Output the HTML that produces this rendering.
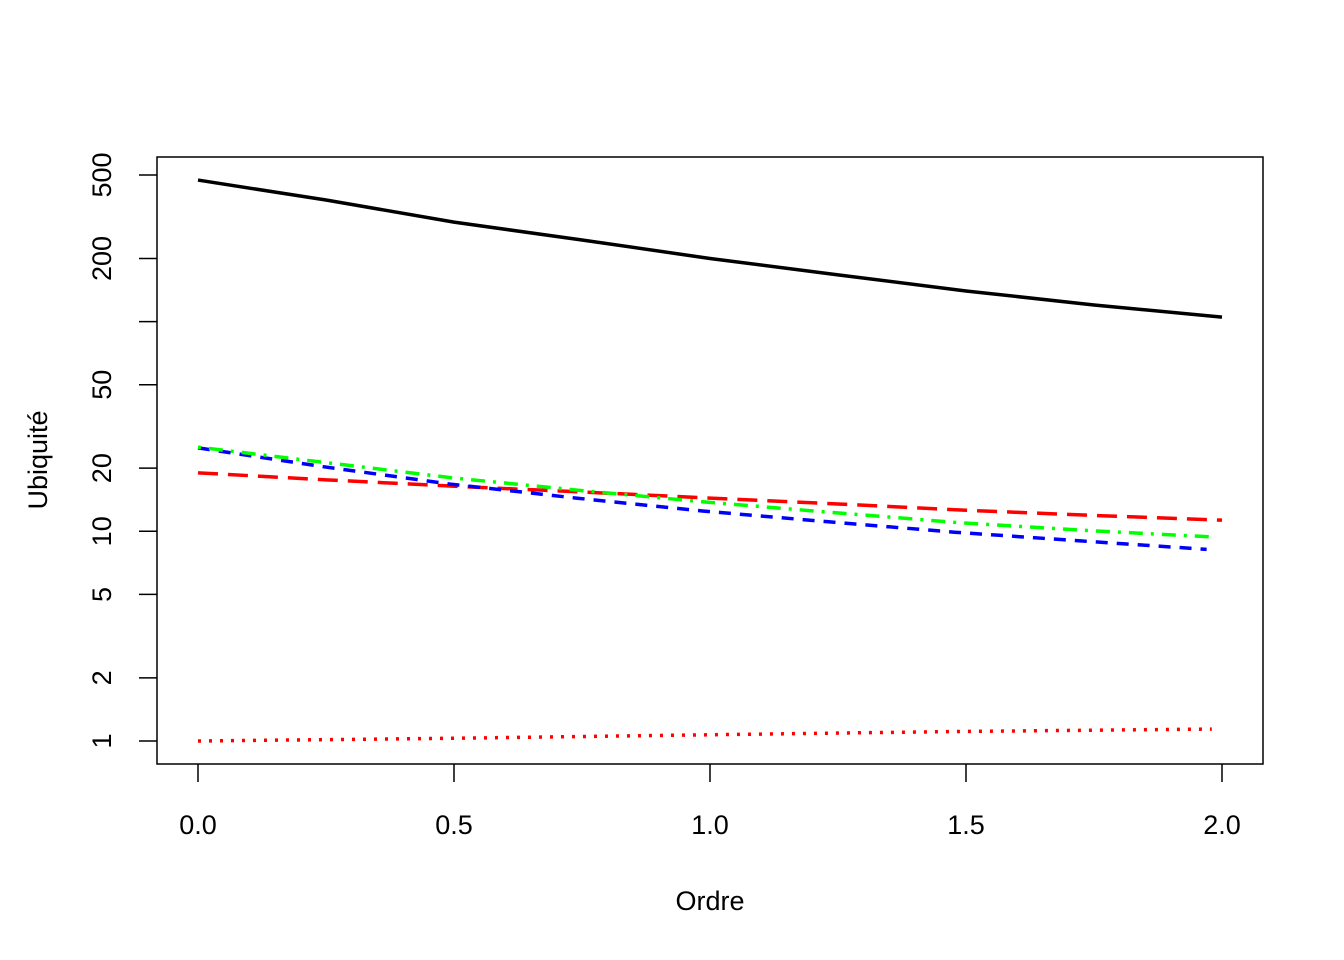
<!DOCTYPE html>
<html><head><meta charset="utf-8"><style>body{margin:0;background:#fff}svg{display:block}text{font-family:"Liberation Sans",Arial,sans-serif;fill:#000}</style></head>
<body>
<svg id="chart" width="1344" height="960" xmlns="http://www.w3.org/2000/svg">
<rect x="157" y="157" width="1106" height="607" fill="none" stroke="#000" stroke-width="1.5"/>
<g id="axes"></g><g id="series"></g>
<text x="710" y="910" font-size="27" text-anchor="middle">Ordre</text>
<text transform="translate(47,460) rotate(-90)" font-size="27" text-anchor="middle">Ubiquité</text>
</svg>
<script>
const xs = [0, 0.25, 0.5, 0.75, 1, 1.25, 1.5, 1.75, 2];
const blackVals = [473, 380, 298, 245, 200, 167, 140, 120, 105];
const greenVals = [25.2, 21.3, 18, 15.7, 13.8, 12.3, 11, 10.1, 9.4];
const blueVals = [25, 20.3, 16.8, 14.4, 12.5, 11.1, 9.9, 9, 8.2];
const redDashVals = [19, 17.6, 16.4, 15.4, 14.4, 13.5, 12.6, 11.9, 11.3];
const redDotVals = [1, 1.015, 1.03, 1.05, 1.07, 1.09, 1.11, 1.125, 1.14];
const xTicks = [0, 0.5, 1, 1.5, 2];
const xTickLabels = ["0.0", "0.5", "1.0", "1.5", "2.0"];
const yTicks = [1, 2, 5, 10, 20, 50, 100, 200, 500];
const yTickLabels = ["1", "2", "5", "10", "20", "50", "", "200", "500"];
const NS = "http://www.w3.org/2000/svg";
const X = v => 198 + v * 512;
const Y = v => 741 - Math.log10(v) * 209.7;
const ax = document.getElementById('axes'), se = document.getElementById('series');
function mk(tag, attrs, parent) { const e = document.createElementNS(NS, tag); for (const k in attrs) e.setAttribute(k, attrs[k]); parent.appendChild(e); return e; }
xTicks.forEach((t, i) => {
  const l = mk('line', {x1: X(t), x2: X(t), y1: 764, y2: 782, stroke: '#000', 'stroke-width': 1.5}, ax);
  
  
  const tx = mk('text', {x: X(t), y: 834, 'font-size': 27, 'text-anchor': 'middle'}, ax);
  tx.textContent = xTickLabels[i];
  
  
});
yTicks.forEach((t, i) => {
  const l = mk('line', {x1: 139, x2: 157, y1: Y(t), y2: Y(t), stroke: '#000', 'stroke-width': 1.5}, ax);
  
  
  if (yTickLabels[i]) {
    const tx = mk('text', {transform: `translate(111,${Y(t)}) rotate(-90)`, 'font-size': 27, 'text-anchor': 'middle'}, ax);
    tx.textContent = yTickLabels[i];
    
    
  }
});
const series = [
  ['black-line', blackVals, '#000', 'none', 1],
  ['red-dashed-line', redDashVals, '#f00', '20,10', 1],
  ['blue-dashed-line', blueVals, '#00f', '12,9', 0.985],
  ['green-dotdash-line', greenVals, '#0f0', '3,8,14,8', 0.99],
  ['red-dotted-line', redDotVals, '#f00', '3,8', 0.99]
];
series.forEach(([name, vals, col, dash, xmax]) => {
  const d = vals.map((v, i) => (i ? 'L' : 'M') + X(xs[i] * xmax) + ',' + Y(v)).join(' ');
  const p = mk('path', {d: d, fill: 'none', stroke: col, 'stroke-width': 3.5, 'stroke-dasharray': dash}, se);
  
  
});
</script>
</body></html>
